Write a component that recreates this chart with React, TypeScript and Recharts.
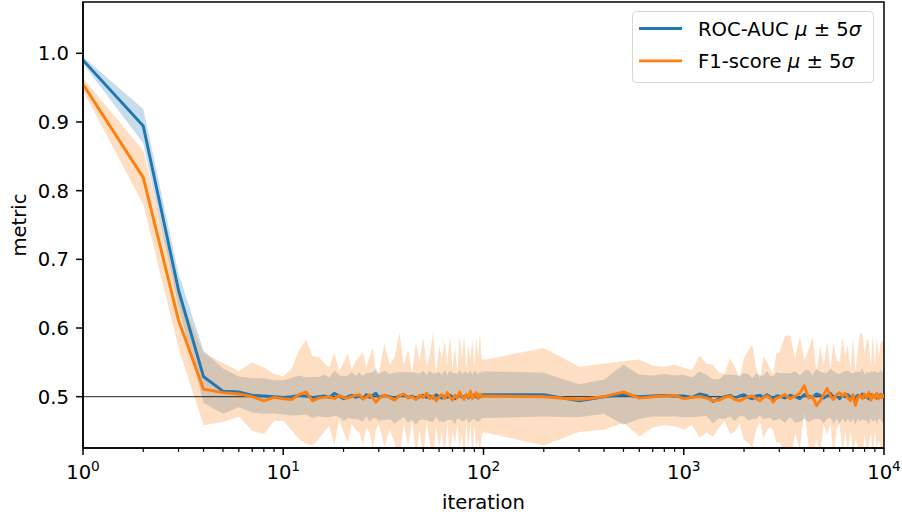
import {
  ComposedChart,
  Area,
  Line,
  XAxis,
  YAxis,
  ReferenceLine,
  ReferenceArea,
  Legend,
} from "recharts";

const FONT = "DejaVu Sans";
const BLUE = "#1f77b4";
const ORANGE = "#ff7f0e";

// x values: 1..29, 30..98 step 2, 100..900, 1000..2900, 3000..10000
const iterations = [
  1, 2, 3, 4, 5, 6, 7, 8, 9, 10, 11, 12, 13, 14, 15, 16, 17, 18, 19, 20,
  21, 22, 23, 24, 25, 26, 27, 28, 29,
  30, 32, 34, 36, 38, 40, 42, 44, 46, 48, 50, 52, 54, 56, 58, 60, 62, 64,
  66, 68, 70, 72, 74, 76, 78, 80, 82, 84, 86, 88, 90, 92, 94, 96, 98,
  100, 200, 300, 400, 500, 600, 700, 800, 900,
  1000, 1100, 1200, 1300, 1400, 1500, 1600, 1700, 1800, 1900, 2000, 2100,
  2200, 2300, 2400, 2500, 2600, 2700, 2800, 2900,
  3000, 3200, 3400, 3600, 3800, 4000, 4200, 4400, 4600, 4800, 5000, 5200,
  5400, 5600, 5800, 6000, 6200, 6400, 6600, 6800, 7000, 7200, 7400, 7600,
  7800, 8000, 8200, 8400, 8600, 8800, 9000, 9200, 9400, 9600, 9800, 10000,
];

const rocMean = [
  0.990, 0.894, 0.655, 0.529, 0.508, 0.507, 0.502, 0.501, 0.500, 0.499,
  0.500, 0.502, 0.501, 0.499, 0.500, 0.501, 0.499, 0.505, 0.501, 0.497,
  0.500, 0.502, 0.499, 0.501, 0.497, 0.503, 0.499, 0.502, 0.505,
  0.499, 0.502, 0.500, 0.498, 0.501, 0.503, 0.499, 0.501, 0.497, 0.500,
  0.502, 0.499, 0.501, 0.498, 0.503, 0.500, 0.498, 0.501, 0.499, 0.502,
  0.500, 0.497, 0.501, 0.503, 0.499, 0.500, 0.502, 0.498, 0.501, 0.499,
  0.503, 0.500, 0.498, 0.501, 0.502,
  0.503, 0.503, 0.494, 0.500, 0.503, 0.500, 0.501, 0.502, 0.501,
  0.501, 0.499, 0.504, 0.502, 0.493, 0.497, 0.500, 0.502, 0.498, 0.501,
  0.503, 0.499, 0.497, 0.501, 0.502, 0.499, 0.503, 0.500, 0.497, 0.501,
  0.501, 0.498, 0.502, 0.500, 0.497, 0.503, 0.501, 0.499, 0.504, 0.502,
  0.498, 0.501, 0.505, 0.499, 0.501, 0.497, 0.502, 0.500, 0.503, 0.499,
  0.501, 0.498, 0.502, 0.500, 0.504, 0.499, 0.501, 0.497, 0.503, 0.500,
  0.502, 0.498, 0.501, 0.503, 0.499, 0.501,
];

const rocSigma = [
  0.0010, 0.0050, 0.0048, 0.0076, 0.0066, 0.0045, 0.0050, 0.0052, 0.0048, 0.0050,
  0.0055, 0.0058, 0.0054, 0.0060, 0.0057, 0.0062, 0.0058, 0.0066, 0.0061, 0.0065,
  0.0062, 0.0068, 0.0063, 0.0070, 0.0066, 0.0064, 0.0071, 0.0067, 0.0072,
  0.0068, 0.0072, 0.0066, 0.0074, 0.0070, 0.0065, 0.0073, 0.0069, 0.0075, 0.0067,
  0.0071, 0.0066, 0.0074, 0.0070, 0.0064, 0.0072, 0.0068, 0.0075, 0.0066, 0.0071,
  0.0069, 0.0074, 0.0065, 0.0072, 0.0068, 0.0073, 0.0067, 0.0071, 0.0075, 0.0066,
  0.0070, 0.0073, 0.0068, 0.0072, 0.0066,
  0.0068, 0.0064, 0.0048, 0.0050, 0.0088, 0.0065, 0.0060, 0.0062, 0.0060,
  0.0062, 0.0058, 0.0066, 0.0060, 0.0064, 0.0057, 0.0065, 0.0061, 0.0067, 0.0059,
  0.0063, 0.0068, 0.0060, 0.0066, 0.0058, 0.0064, 0.0069, 0.0061, 0.0065, 0.0070,
  0.0066, 0.0072, 0.0064, 0.0075, 0.0068, 0.0070, 0.0076, 0.0065, 0.0073, 0.0069,
  0.0074, 0.0067, 0.0071, 0.0077, 0.0066, 0.0072, 0.0068, 0.0075, 0.0070, 0.0073,
  0.0066, 0.0076, 0.0069, 0.0072, 0.0074, 0.0067, 0.0071, 0.0075, 0.0068, 0.0073,
  0.0070, 0.0076, 0.0066, 0.0072, 0.0074, 0.0069,
];

const f1Mean = [
  0.955, 0.819, 0.611, 0.511, 0.506, 0.504, 0.500, 0.494, 0.499, 0.497,
  0.496, 0.503, 0.507, 0.494, 0.498, 0.499, 0.500, 0.497, 0.502, 0.499,
  0.498, 0.500, 0.502, 0.503, 0.497, 0.499, 0.503, 0.498, 0.492,
  0.497, 0.502, 0.499, 0.495, 0.501, 0.504, 0.498, 0.500, 0.496, 0.502,
  0.499, 0.505, 0.497, 0.501, 0.494, 0.500, 0.503, 0.497, 0.506, 0.499,
  0.495, 0.502, 0.498, 0.507, 0.500, 0.496, 0.503, 0.499, 0.508, 0.497,
  0.501, 0.506, 0.498, 0.504, 0.500,
  0.501, 0.500, 0.496, 0.500, 0.507, 0.498, 0.500, 0.501, 0.502,
  0.497, 0.499, 0.500, 0.498, 0.494, 0.495, 0.499, 0.501, 0.496, 0.494,
  0.497, 0.500, 0.501, 0.497, 0.494, 0.499, 0.501, 0.498, 0.492, 0.498,
  0.499, 0.503, 0.497, 0.501, 0.505, 0.516, 0.498, 0.500, 0.487, 0.494,
  0.503, 0.512, 0.501, 0.496, 0.503, 0.506, 0.501, 0.505, 0.498, 0.494,
  0.503, 0.487, 0.499, 0.502, 0.497, 0.504, 0.499, 0.506, 0.495, 0.503,
  0.498, 0.505, 0.497, 0.502, 0.499, 0.503,
];

const f1Sigma = [
  0.0018, 0.0078, 0.0080, 0.0105, 0.0086, 0.0066, 0.0100, 0.0097, 0.0068, 0.0065,
  0.0090, 0.0130, 0.0152, 0.0130, 0.0120, 0.0100, 0.0085, 0.0136, 0.0070, 0.0100,
  0.0130, 0.0080, 0.0100, 0.0110, 0.0135, 0.0088, 0.0110, 0.0148, 0.0080,
  0.0075, 0.0150, 0.0095, 0.0125, 0.0185, 0.0085, 0.0140, 0.0070, 0.0165, 0.0100,
  0.0175, 0.0080, 0.0130, 0.0185, 0.0075, 0.0150, 0.0105, 0.0170, 0.0085, 0.0180,
  0.0090, 0.0140, 0.0075, 0.0165, 0.0110, 0.0185, 0.0080, 0.0150, 0.0095, 0.0175,
  0.0085, 0.0160, 0.0120, 0.0175, 0.0110,
  0.0105, 0.0142, 0.0095, 0.0096, 0.0090, 0.0112, 0.0090, 0.0085, 0.0090,
  0.0090, 0.0080, 0.0120, 0.0100, 0.0105, 0.0080, 0.0068, 0.0110, 0.0095, 0.0066,
  0.0120, 0.0135, 0.0150, 0.0090, 0.0060, 0.0120, 0.0100, 0.0085, 0.0082, 0.0130,
  0.0130, 0.0170, 0.0185, 0.0110, 0.0165, 0.0075, 0.0140, 0.0175, 0.0100, 0.0160,
  0.0085, 0.0135, 0.0080, 0.0165, 0.0100, 0.0090, 0.0170, 0.0110, 0.0155, 0.0090,
  0.0165, 0.0100, 0.0140, 0.0180, 0.0190, 0.0115, 0.0170, 0.0150, 0.0095, 0.0175,
  0.0090, 0.0160, 0.0120, 0.0150, 0.0170, 0.0130,
];

const majorXTicks = [1, 10, 100, 1000, 10000];
const minorXTicks = [
  2, 3, 4, 5, 6, 7, 8, 9,
  20, 30, 40, 50, 60, 70, 80, 90,
  200, 300, 400, 500, 600, 700, 800, 900,
  2000, 3000, 4000, 5000, 6000, 7000, 8000, 9000,
];
const yTicks = [0.5, 0.6, 0.7, 0.8, 0.9, 1.0];
const Y_MIN = 0.4253;
const Y_MAX = 1.0747;

const data = iterations.map((it, i) => ({
  iteration: it,
  rocMean: rocMean[i],
  rocBand: [rocMean[i] - 5 * rocSigma[i], rocMean[i] + 5 * rocSigma[i]],
  f1Mean: f1Mean[i],
  f1Band: [f1Mean[i] - 5 * f1Sigma[i], f1Mean[i] + 5 * f1Sigma[i]],
}));

const XTick = (props: any) => {
  const { x, y, payload } = props;
  const v = payload.value;
  if (!majorXTicks.includes(v)) {
    return <line x1={x} x2={x} y1={y} y2={y + 3.9} stroke="#000" strokeWidth={1.2} />;
  }
  const exp = Math.round(Math.log10(v));
  return (
    <g>
      <line x1={x} x2={x} y1={y} y2={y + 6.9} stroke="#000" strokeWidth={1.5} />
      <text x={x} y={y + 31} textAnchor="middle" fontFamily={FONT} fontSize={19.6} fill="#000">
        <tspan>10</tspan>
        <tspan dy={-8} fontSize={13.7}>{exp}</tspan>
      </text>
    </g>
  );
};

const YTick = (props: any) => {
  const { x, y, payload } = props;
  return (
    <g>
      <line x1={x - 6.9} x2={x} y1={y} y2={y} stroke="#000" strokeWidth={1.5} />
      <text x={x - 14} y={y + 7.1} textAnchor="end" fontFamily={FONT} fontSize={19.6} fill="#000">
        {payload.value.toFixed(1)}
      </text>
    </g>
  );
};

const renderLegend = () => (
  <svg width={243} height={73} style={{ display: "block" }}>
    <rect x={0.5} y={0.5} width={241} height={71} rx={4} fill="#fff" fillOpacity={0.8} stroke="#d6d6d6" />
    <line x1={7} x2={50} y1={17.5} y2={17.5} stroke={BLUE} strokeWidth={2.9} />
    <line x1={7} x2={50} y1={49.9} y2={49.9} stroke={ORANGE} strokeWidth={2.9} />
    <text x={66} y={24.6} fontFamily={FONT} fontSize={19.6} fill="#000">
      ROC-AUC <tspan fontStyle="italic">μ</tspan> ± 5<tspan fontStyle="italic">σ</tspan>
    </text>
    <text x={66} y={57} fontFamily={FONT} fontSize={19.6} fill="#000">
      F1-score <tspan fontStyle="italic">μ</tspan> ± 5<tspan fontStyle="italic">σ</tspan>
    </text>
  </svg>
);

export default function App() {
  return (
    <div style={{ position: "absolute", left: 0, top: 0, background: "#fff" }}>
      <ComposedChart
        width={902}
        height={516}
        data={data}
        margin={{ top: 2, right: 18, bottom: 8, left: 13 }}
      >
        <XAxis
          dataKey="iteration"
          type="number"
          scale="log"
          domain={[1, 10000]}
          allowDataOverflow
          ticks={[...majorXTicks, ...minorXTicks]}
          interval={0}
          tick={XTick}
          tickLine={false}
          tickSize={0}
          tickMargin={0}
          height={60}
          axisLine={{ stroke: "#000", strokeWidth: 1.5 }}
          label={({ viewBox }: any) => (
            <text
              x={viewBox.x + viewBox.width / 2}
              y={viewBox.y + 61}
              textAnchor="middle"
              fontFamily={FONT}
              fontSize={19.6}
              fill="#000"
            >
              iteration
            </text>
          )}
        />
        <YAxis
          type="number"
          domain={[Y_MIN, Y_MAX]}
          allowDataOverflow
          ticks={yTicks}
          interval={0}
          tick={YTick}
          tickLine={false}
          tickSize={0}
          tickMargin={0}
          width={70}
          axisLine={{ stroke: "#000", strokeWidth: 1.5 }}
          label={({ viewBox }: any) => {
            const cy = viewBox.y + viewBox.height / 2;
            return (
              <text
                x={25.5}
                y={cy}
                transform={`rotate(-90, 25.5, ${cy})`}
                textAnchor="middle"
                fontFamily={FONT}
                fontSize={19.6}
                fill="#000"
              >
                metric
              </text>
            );
          }}
        />
        <Area
          dataKey="rocBand"
          stroke="none"
          fill={BLUE}
          fillOpacity={0.25}
          isAnimationActive={false}
          activeDot={false}
        />
        <Area
          dataKey="f1Band"
          stroke="none"
          fill={ORANGE}
          fillOpacity={0.25}
          isAnimationActive={false}
          activeDot={false}
        />
        <ReferenceLine y={0.5} stroke="#222" strokeWidth={1} />
        <Line
          dataKey="rocMean"
          stroke={BLUE}
          strokeWidth={2.9}
          strokeLinejoin="round"
          dot={false}
          activeDot={false}
          isAnimationActive={false}
        />
        <Line
          dataKey="f1Mean"
          stroke={ORANGE}
          strokeWidth={2.9}
          strokeLinejoin="round"
          dot={false}
          activeDot={false}
          isAnimationActive={false}
        />
        <ReferenceArea
          x1={1}
          x2={10000}
          y1={Y_MIN}
          y2={Y_MAX}
          fill="none"
          stroke="#000"
          strokeWidth={1.5}
          ifOverflow="visible"
        />
        <Legend
          layout="vertical"
          align="center"
          verticalAlign="middle"
          content={renderLegend}
          wrapperStyle={{ left: 632, top: 11, width: 243, height: 73 }}
        />
      </ComposedChart>
    </div>
  );
}
